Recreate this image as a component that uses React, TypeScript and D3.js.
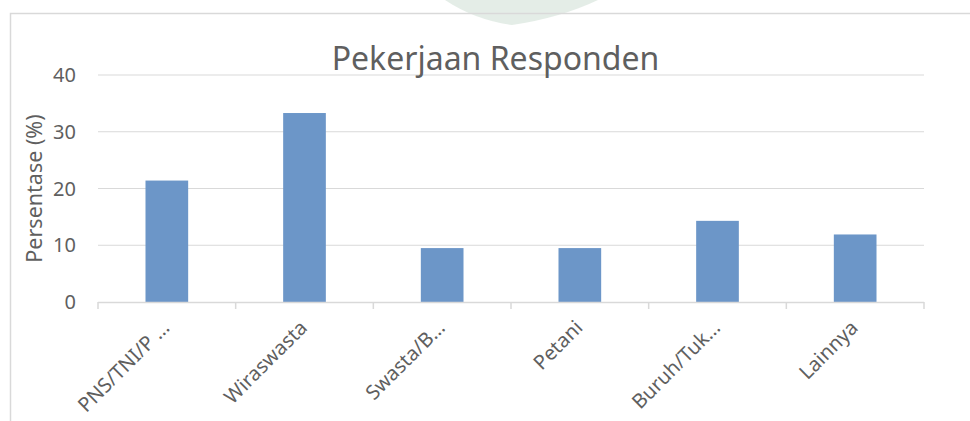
import * as d3 from "d3";
import React from "react";

const categories = ["PNS/TNI/P …", "Wiraswasta", "Swasta/B…", "Petani", "Buruh/Tuk…", "Lainnya"];
const percentValues = [21.4, 33.3, 9.5, 9.5, 14.3, 11.9];
const yTicks = [0, 10, 20, 30, 40];

const chartTitle = "Pekerjaan Responden";
const yAxisLabel = "Persentase (%)";

const WIDTH = 970;
const HEIGHT = 421;
const FONT = "'Noto Sans', 'Open Sans', sans-serif";
const TEXT_COLOR = "#5f5f5f";
const GRID_COLOR = "#d9d9d9";
const BAR_COLOR = "#6c96c8";

export default function App() {
    const plotLeft = 98;
    const plotRight = 924;
    const plotTop = 75;
    const plotBottom = 302;

    const xScale = d3.scaleBand<string>()
        .domain(categories)
        .range([plotLeft, plotRight])
        .padding(0);
    const yScale = d3.scaleLinear()
        .domain([0, 40])
        .range([plotBottom, plotTop]);

    // excel draws the bar at ~31% of the category width
    const barWidth = xScale.bandwidth() * 0.31;
    const tickEdges = [...categories.map(c => xScale(c) as number), plotRight];

    return (
        <svg width={WIDTH} height={HEIGHT} style={{ position: "absolute", left: 0, top: 0, background: "#fff" }}>
            {/* faint watermark shape above the chart */}
            <path d="M 445 0 Q 475 20 512 25 Q 560 18 598 0 Z" fill="#dde9e1" opacity={0.8} />

            {/* chart area border */}
            <rect x={10.5} y={13.5} width={WIDTH + 20} height={HEIGHT + 20} fill="none" stroke={GRID_COLOR} strokeWidth={1.5} />

            {/* grid lines */}
            {yTicks.filter(t => t > 0).map(t => (
                <line key={t} x1={plotLeft} x2={plotRight} y1={yScale(t)} y2={yScale(t)} stroke={GRID_COLOR} strokeWidth={1} />
            ))}

            {/* y tick labels */}
            {yTicks.map(t => (
                <text key={"yl" + t} x={76} y={yScale(t)} dy="0.36em" textAnchor="end"
                    fontFamily={FONT} fontSize={20} fill={TEXT_COLOR}>{t}</text>
            ))}

            <text transform={`translate(42,${(plotTop + plotBottom) / 2}) rotate(-90)`} textAnchor="middle"
                fontFamily={FONT} fontSize={21.5} fill={TEXT_COLOR}>{yAxisLabel}</text>

            {/* bars */}
            {categories.map((c, i) => (
                <rect key={c}
                    x={(xScale(c) as number) + (xScale.bandwidth() - barWidth) / 2}
                    y={yScale(percentValues[i])}
                    width={barWidth}
                    height={plotBottom - yScale(percentValues[i])}
                    fill={BAR_COLOR} />
            ))}

            {/* x axis */}
            <line x1={plotLeft} x2={plotRight} y1={plotBottom + 0.5} y2={plotBottom + 0.5} stroke={GRID_COLOR} strokeWidth={1.5} />
            {tickEdges.map((x, i) => (
                <line key={"t" + i} x1={x} x2={x} y1={plotBottom} y2={plotBottom + 7} stroke={GRID_COLOR} strokeWidth={1.5} />
            ))}
            {categories.map(c => {
                const cx = (xScale(c) as number) + xScale.bandwidth() / 2;
                return (
                    <text key={"xl" + c} transform={`translate(${cx - 1},${plotBottom + 22}) rotate(-45)`}
                        textAnchor="end" dy="0.35em" fontFamily={FONT} fontSize={20} fill={TEXT_COLOR}>{c}</text>
                );
            })}

            <text x={495.5} y={70} textAnchor="middle" fontFamily={FONT} fontSize={32} fill={TEXT_COLOR}>{chartTitle}</text>
        </svg>
    );
}
